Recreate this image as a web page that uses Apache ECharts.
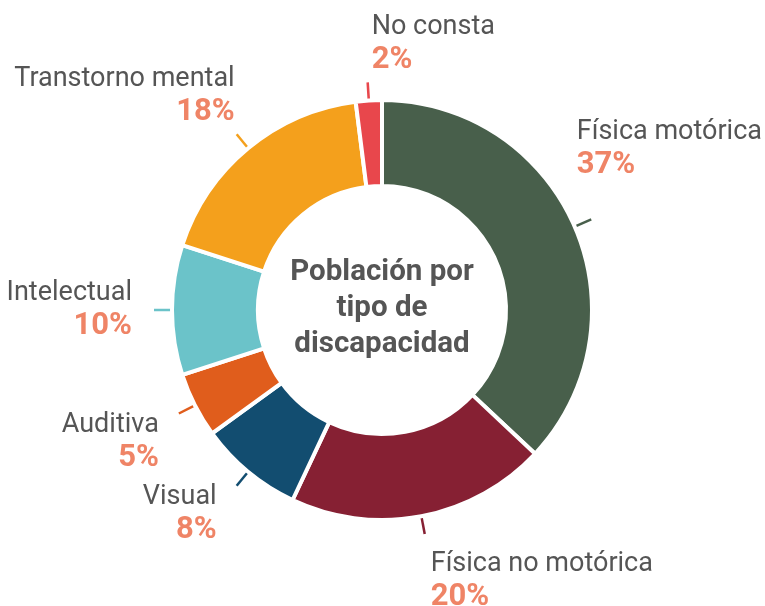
<!DOCTYPE html>
<html>
<head>
<meta charset="utf-8">
<script src="https://cdn.jsdelivr.net/npm/echarts@6/dist/echarts.min.js"></script>
<style>
  html, body { margin: 0; padding: 0; background: #fff; }
  #chart { width: 765px; height: 606px; }
</style>
</head>
<body>
<div id="chart"></div>
<script>
  // datos
  var categories = ['Física motórica', 'Física no motórica', 'Visual', 'Auditiva', 'Intelectual', 'Transtorno mental', 'No consta'];
  var values = [37, 20, 8, 5, 10, 18, 2];
  var colors = ['#485f4b', '#862033', '#124d70', '#e05d1c', '#6bc3c9', '#f4a01c', '#e8474c'];
  var centerTitle = 'Población por\ntipo de\ndiscapacidad';

  var W = 765;
  var cx = 382, cy = 310;

  var chart = echarts.init(document.getElementById('chart'));

  var pieData = categories.map(function (name, i) {
    return { name: name, value: values[i], itemStyle: { color: colors[i] } };
  });

  // coloca las etiquetas junto al final de cada marca
  function placeLabel(params) {
    var pts = params.labelLinePoints;
    if (!pts) return {};
    var end = pts[pts.length - 1];
    var dx = end[0] - cx, dy = end[1] - cy;
    var dist = Math.sqrt(dx * dx + dy * dy);
    var s = dx / dist, c = -dy / dist;
    var left = s > -0.15;
    var out = { align: left ? 'left' : 'right', labelLinePoints: pts };
    var w = params.labelRect ? params.labelRect.width : 0;
    if (c > 0.3) {
      // arriba
      out.verticalAlign = 'bottom';
      out.y = end[1] - (c < 0.5 ? 38 : 6);
      out.x = end[0] + (left ? 4 : -2);
    } else if (c < -0.3) {
      // abajo
      out.verticalAlign = 'top';
      if (Math.abs(s) > 0.5) {
        out.y = end[1] - 5;
        out.x = end[0] - 20;
      } else {
        out.y = end[1] + 14;
        out.x = end[0] + (left ? 6 : -6);
      }
    } else {
      out.verticalAlign = 'middle';
      out.y = end[1];
      out.x = end[0] + (left ? 20 : -22);
    }
    if (left && out.x + w > W - 3) out.x = W - 3 - w;
    return out;
  }

  var option = {
    backgroundColor: '#fff',
    textStyle: { fontFamily: 'Roboto' },
    graphic: [{
      type: 'text',
      x: cx,
      y: cy - 1,
      style: {
        text: centerTitle,
        align: 'center',
        verticalAlign: 'middle',
        fontFamily: 'Roboto',
        fontWeight: 'bold',
        fontSize: 29.5,
        lineHeight: 36,
        fill: '#555555'
      }
    }],
    series: [{
      type: 'pie',
      center: [cx, cy],
      radius: [124, 210],
      startAngle: 90,
      clockwise: true,
      avoidLabelOverlap: false,
      animation: false,
      itemStyle: {
        borderColor: '#fff',
        borderWidth: 4
      },
      label: {
        show: true,
        position: 'outside',
        formatter: '{n|{b}}\n{p|{c}%}',
        rich: {
          n: { fontFamily: 'Roboto', fontSize: 27, color: '#555555', lineHeight: 33 },
          p: { fontFamily: 'Roboto', fontSize: 31, fontWeight: 'bold', color: '#ef8466', lineHeight: 33 }
        }
      },
      labelLine: {
        show: true,
        length: 18,
        length2: 0,
        smooth: false,
        lineStyle: { width: 2.5 }
      },
      labelLayout: placeLabel,
      emphasis: { disabled: true },
      data: pieData
    }]
  };

  chart.setOption(option);
</script>
</body>
</html>
